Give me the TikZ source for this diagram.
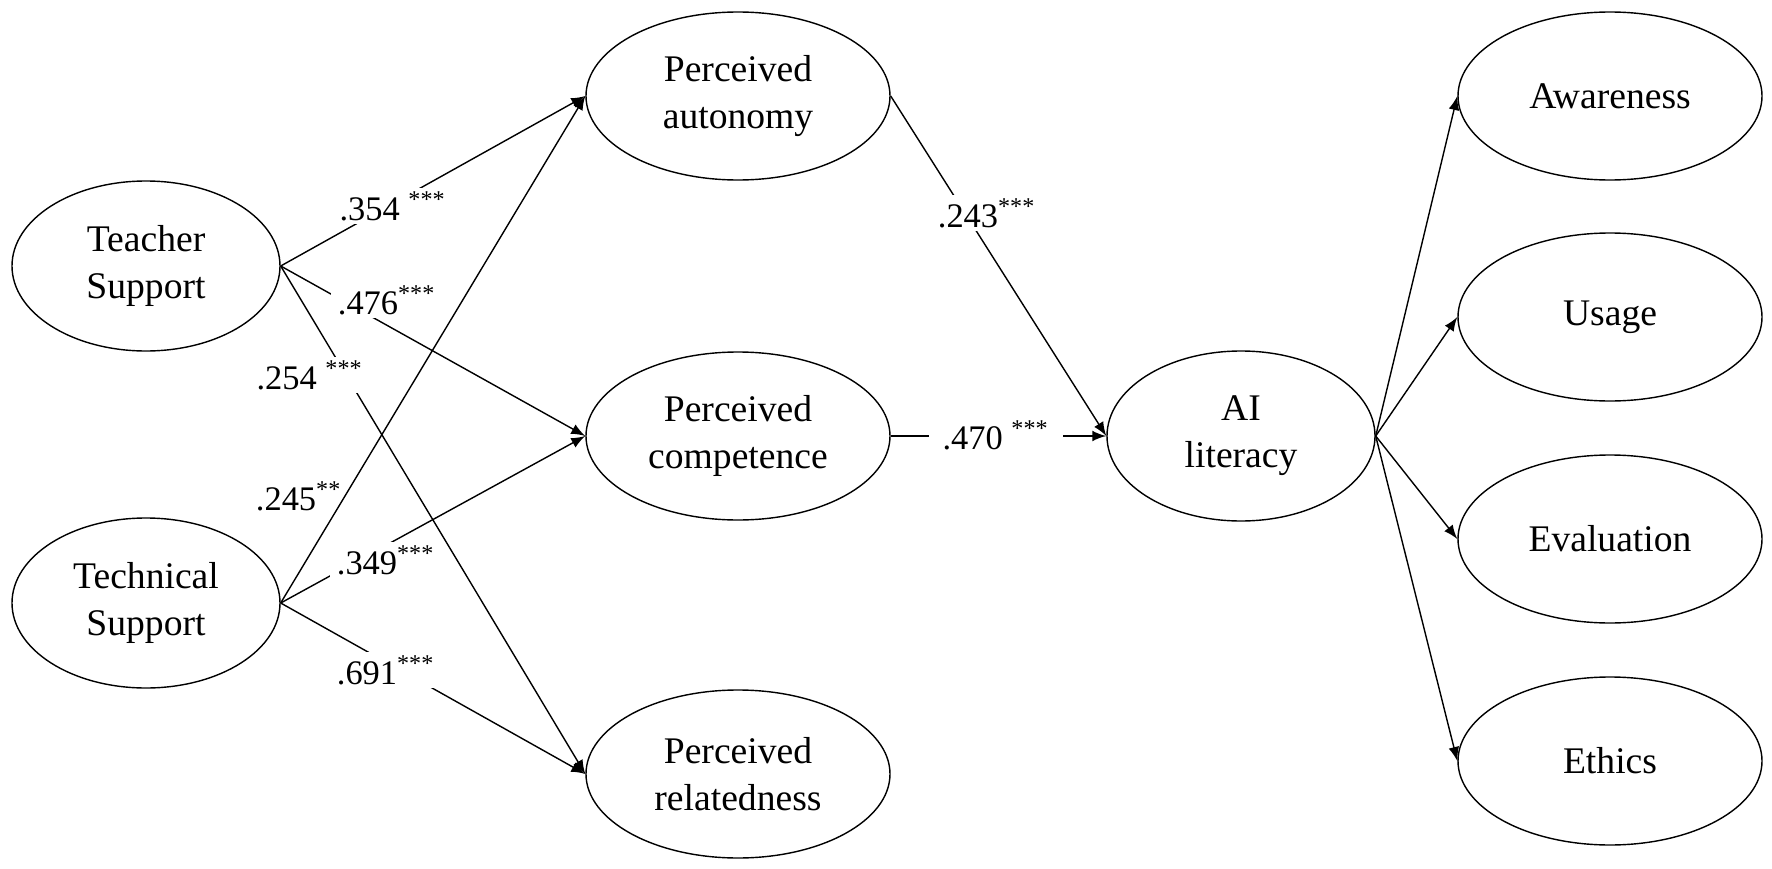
\documentclass[tikz,border=0pt]{standalone}
\usepackage{fontspec}
\setmainfont{Liberation Serif}
\usetikzlibrary{shapes.geometric}

\tikzset{
    latent/.style={draw, ellipse, minimum width=3.04cm, minimum height=1.68cm, inner sep=0pt, align=center, font=\fontsize{10.7}{13.3}\selectfont},
    narrow/.style={latent, minimum width=2.68cm, minimum height=1.70cm},
    coef/.style={fill=white, inner xsep=2pt, inner ysep=1pt, font=\fontsize{9.8}{12}\selectfont},
    link/.style={-latex}
}

\begin{document}
\begin{tikzpicture}
    \useasboundingbox (0, 0) rectangle (17.72, 8.68);
    % latent variables
    \node[narrow](teacher) at (1.46, 6.02){Teacher\\Support};
    \node[narrow](technical) at (1.46, 2.65){Technical\\Support};
    \node[latent](autonomy) at (7.38, 7.72){Perceived\\autonomy};
    \node[latent](competence) at (7.38, 4.32){Perceived\\competence};
    \node[latent](relatedness) at (7.38, 0.94){Perceived\\relatedness};
    \node[narrow](ai) at (12.41, 4.32){AI\\literacy};
    \node[latent](awareness) at (16.10, 7.72){Awareness};
    \node[latent](usage) at (16.10, 5.51){Usage};
    \node[latent](evaluation) at (16.10, 3.29){Evaluation};
    \node[latent](ethics) at (16.10, 1.07){Ethics};
    % paths
    \draw[link](teacher.east) -- (autonomy.west);
    \draw[link](teacher.east) -- (competence.west);
    \draw[link](teacher.east) -- (relatedness.west);
    \draw[link](technical.east) -- (autonomy.west);
    \draw[link](technical.east) -- (competence.west);
    \draw[link](technical.east) -- (relatedness.west);
    \draw[link](autonomy.east) -- (ai.west);
    \draw[link](competence.east) -- (ai.west);
    \foreach \dim in {awareness, usage, evaluation, ethics}
        \draw[link](ai.east) -- (\dim.west);
    % coefficients
    \node[coef](c354) at (3.93, 6.62){.354 \textsuperscript{***}};
    \node[coef](c476) at (3.87, 5.68){.476\textsuperscript{***}};
    \node[coef](c254) at (3.10, 4.93){.254 \textsuperscript{***}};
    \node[inner sep=1pt, font=\fontsize{9.8}{12}\selectfont](c245) at (2.99, 3.72){.245\textsuperscript{**}};
    \node[coef](c349) at (3.86, 3.08){.349\textsuperscript{***}};
    \node[coef, inner xsep=4pt](c691) at (3.86, 1.98){.691\textsuperscript{***}};
    \node[coef](c243) at (9.87, 6.55){.243\textsuperscript{***}};
    \node[coef, inner xsep=4pt](c470) at (9.96, 4.33){.470 \textsuperscript{***}};
\end{tikzpicture}
\end{document}
